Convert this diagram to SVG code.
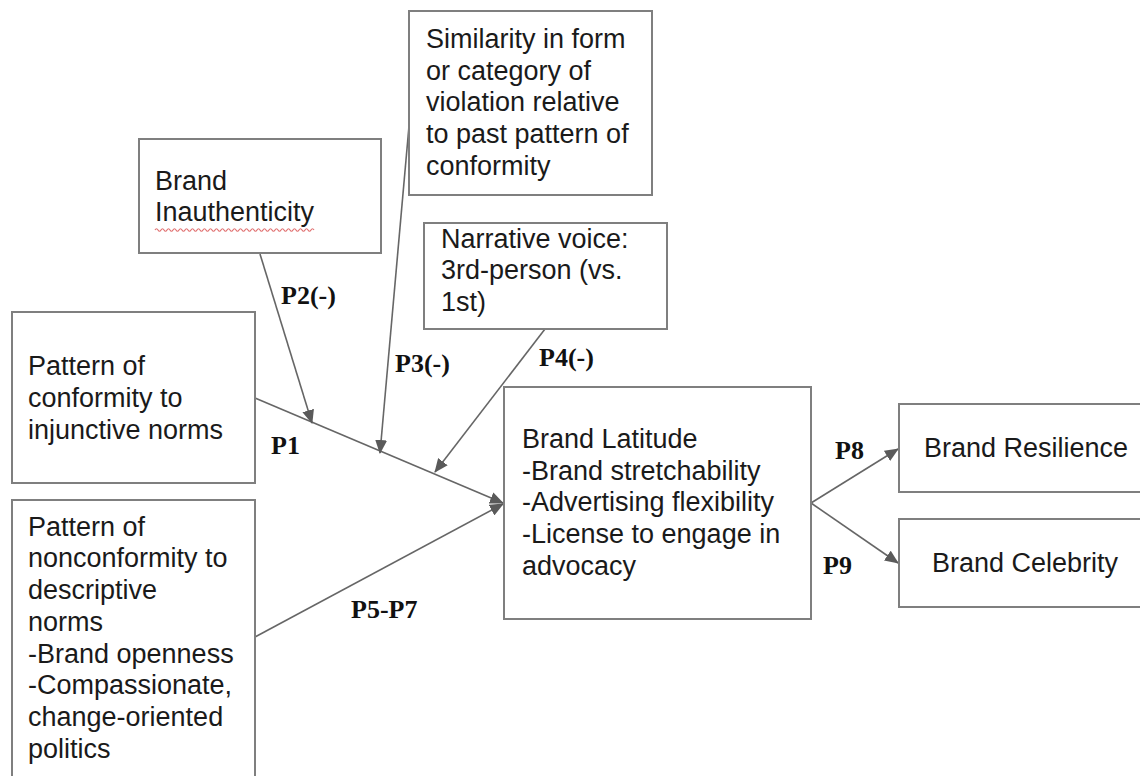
<svg xmlns="http://www.w3.org/2000/svg" width="1140" height="776" viewBox="0 0 1140 776">
<style>
.box{fill:#fff;stroke:#7f7f7f;stroke-width:2}
.t{font-family:"Liberation Sans",Arial,sans-serif;font-size:27px;fill:#1a1a1a}
.lbl{font-family:"Liberation Serif","Times New Roman",serif;font-size:26px;font-weight:bold;fill:#111}
.c{stroke:#666;stroke-width:1.6;fill:none;marker-end:url(#ah)}
</style>
<defs>
<marker id="ah" viewBox="0 0 14 12" refX="13" refY="6" markerWidth="14" markerHeight="12" markerUnits="userSpaceOnUse" orient="auto">
<path d="M0,0 L14,6 L0,12 Z" fill="#5a5a5a"/>
</marker>
</defs>
<rect width="1140" height="776" fill="#fff"/>
<g id="connectors">
<line class="c" x1="255" y1="398" x2="503" y2="503"/>
<line class="c" x1="255" y1="637" x2="503" y2="504"/>
<line class="c" x1="260" y1="254" x2="312" y2="423"/>
<line class="c" x1="409" y1="126" x2="380" y2="453"/>
<line class="c" x1="545" y1="329" x2="435" y2="472"/>
<line class="c" x1="811" y1="503" x2="898" y2="449"/>
<line class="c" x1="811" y1="503" x2="898" y2="563"/>
</g>
<g id="labels">
<text class="lbl" x="281" y="304">P2(-)</text>
<text class="lbl" x="395" y="372">P3(-)</text>
<text class="lbl" x="539" y="366">P4(-)</text>
<text class="lbl" x="271" y="454">P1</text>
<text class="lbl" x="351" y="618">P5-P7</text>
<text class="lbl" x="835" y="459">P8</text>
<text class="lbl" x="823" y="574">P9</text>
</g>
<g id="inauthenticity">
<rect class="box" x="139" y="139" width="242" height="114"/>
<text class="t" x="155" y="190">Brand</text>
<text class="t" x="155" y="221">Inauthenticity</text>
<path d="M155,230 q1.5,-2.5 3,0 t3,0 t3,0 t3,0 t3,0 t3,0 t3,0 t3,0 t3,0 t3,0 t3,0 t3,0 t3,0 t3,0 t3,0 t3,0 t3,0 t3,0 t3,0 t3,0 t3,0 t3,0 t3,0 t3,0 t3,0 t3,0 t3,0 t3,0 t3,0 t3,0 t3,0 t3,0 t3,0 t3,0 t3,0 t3,0 t3,0 t3,0 t3,0 t3,0 t3,0 t3,0 t3,0 t3,0 t3,0 t3,0 t3,0 t3,0 t3,0 t3,0 t3,0 t3,0 t3,0" fill="none" stroke="#e07070" stroke-width="1.2"/>
</g>
<g id="similarity">
<rect class="box" x="409" y="11" width="243" height="184"/>
<text class="t" x="426" y="48">Similarity in form</text>
<text class="t" x="426" y="80">or category of</text>
<text class="t" x="426" y="111">violation relative</text>
<text class="t" x="426" y="143">to past pattern of</text>
<text class="t" x="426" y="175">conformity</text>
</g>
<g id="narrative">
<rect class="box" x="424" y="223" width="243" height="106"/>
<text class="t" x="441" y="248">Narrative voice:</text>
<text class="t" x="441" y="279">3rd-person (vs.</text>
<text class="t" x="441" y="311">1st)</text>
</g>
<g id="conformity">
<rect class="box" x="12" y="312" width="243" height="171"/>
<text class="t" x="28" y="375">Pattern of</text>
<text class="t" x="28" y="407">conformity to</text>
<text class="t" x="28" y="439">injunctive norms</text>
</g>
<g id="nonconformity">
<rect class="box" x="12" y="500" width="243" height="290"/>
<text class="t" x="28" y="536">Pattern of</text>
<text class="t" x="28" y="567">nonconformity to</text>
<text class="t" x="28" y="599">descriptive</text>
<text class="t" x="28" y="631">norms</text>
<text class="t" x="28" y="663">-Brand openness</text>
<text class="t" x="28" y="694">-Compassionate,</text>
<text class="t" x="28" y="726">change-oriented</text>
<text class="t" x="28" y="758">politics</text>
</g>
<g id="latitude">
<rect class="box" x="504" y="387" width="307" height="232"/>
<text class="t" x="522" y="448">Brand Latitude</text>
<text class="t" x="522" y="480">-Brand stretchability</text>
<text class="t" x="522" y="511">-Advertising flexibility</text>
<text class="t" x="522" y="543">-License to engage in</text>
<text class="t" x="522" y="575">advocacy</text>
</g>
<g id="resilience">
<rect class="box" x="899" y="404" width="260" height="88"/>
<text class="t" x="924" y="457">Brand Resilience</text>
</g>
<g id="celebrity">
<rect class="box" x="899" y="519" width="260" height="88"/>
<text class="t" x="932" y="572">Brand Celebrity</text>
</g>
</svg>
